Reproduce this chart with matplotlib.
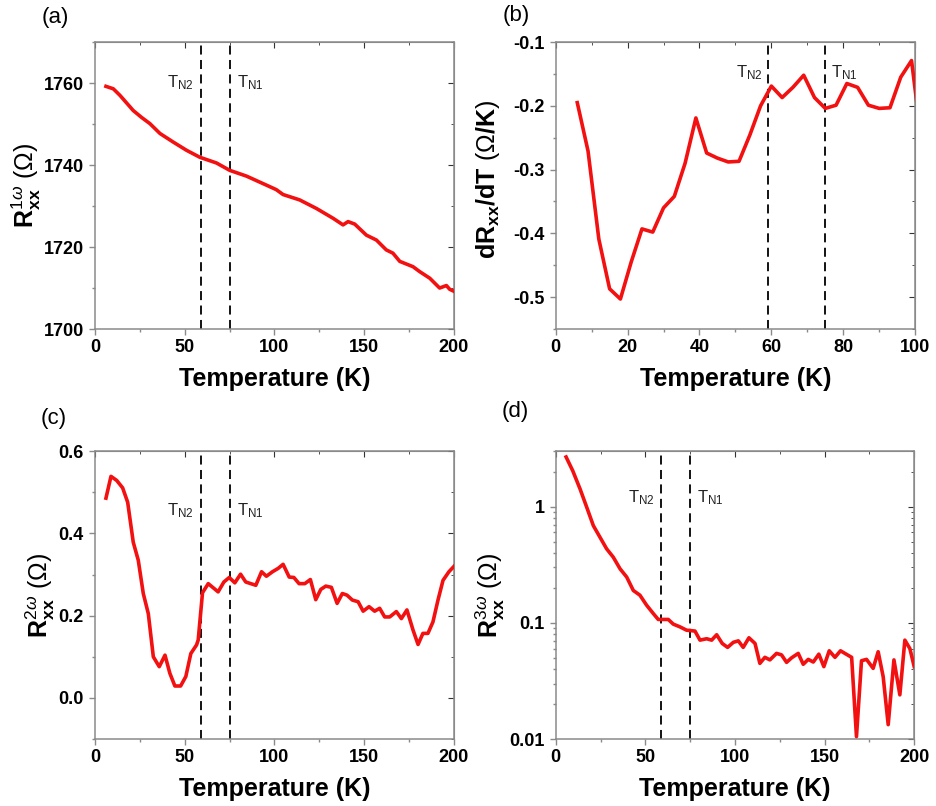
import numpy as np
import matplotlib
matplotlib.use("Agg")
import matplotlib.pyplot as plt
from matplotlib.ticker import MultipleLocator, LogLocator, NullFormatter, FixedLocator

plt.rcParams['font.family'] = ['Liberation Sans', 'DejaVu Sans']
plt.rcParams['mathtext.fontset'] = 'custom'
plt.rcParams['mathtext.rm'] = 'Liberation Sans'
plt.rcParams['mathtext.it'] = 'Liberation Sans:italic'
plt.rcParams['mathtext.bf'] = 'Liberation Sans:bold'
plt.rcParams['axes.unicode_minus'] = False

# (a) first harmonic resistance
Ta = [6.1, 10.2, 13.9, 17.5, 21.3, 26, 30.6, 36.2, 43.6, 51, 58.4, 67.7, 75.1, 84.4,
      95.5, 101, 104.8, 114, 123.4, 132.7, 138.2, 141, 144.7, 151.2, 156.8, 162.3,
      166, 169.8, 177.2, 180.9, 186.5, 192, 195.8, 197.6, 200]
Ra = [1759.2, 1758.6, 1757, 1755.2, 1753.3, 1751.6, 1750.1, 1747.7, 1745.6, 1743.6,
      1741.9, 1740.5, 1738.7, 1737.3, 1735.1, 1734, 1732.8, 1731.5, 1729.4, 1727,
      1725.4, 1726.2, 1725.6, 1722.9, 1721.7, 1719.3, 1718.5, 1716.5, 1715.2, 1714,
      1712.4, 1710, 1710.6, 1709.7, 1709.2]

# (b) derivative
Tb = [6, 9, 12, 15, 18, 21, 24, 27, 30, 33, 36, 39, 42, 45, 48, 51, 54, 57, 60, 63,
      66, 69, 72, 75, 78, 81, 84, 87, 90, 93, 96, 99, 102]
dRb = [-0.195, -0.271, -0.409, -0.487, -0.503, -0.445, -0.393, -0.398, -0.36, -0.342,
       -0.29, -0.219, -0.274, -0.282, -0.288, -0.287, -0.246, -0.2, -0.169, -0.187,
       -0.171, -0.152, -0.187, -0.204, -0.199, -0.165, -0.171, -0.199, -0.204, -0.203,
       -0.155, -0.129, -0.265]

# (c) second harmonic
Tc = [6.1, 8.9, 12.1, 15.4, 18.2, 21.3, 24.1, 26.9, 29.7, 32.5, 35.8, 39, 41.7, 44.5,
      47.7, 50.6, 53.4, 56.6, 57.5, 59.9, 63.1, 68.6, 71.8, 74.8, 77.9, 81.1, 84,
      89.6, 92.8, 95.5, 98.9, 102, 104.8, 108.2, 110.8, 113.7, 116.9, 120, 123,
      125.8, 128.6, 131.7, 134.9, 137.8, 140.4, 143.4, 146.6, 149.4, 152.7, 155.8,
      158.6, 161.4, 164.2, 167.9, 170.7, 173.8, 177.2, 180, 182.7, 185.5, 188.3,
      191.1, 193.9, 197.2, 200]
R2c = [0.486, 0.539, 0.529, 0.511, 0.476, 0.379, 0.335, 0.254, 0.205, 0.1, 0.076,
       0.104, 0.06, 0.029, 0.029, 0.052, 0.108, 0.129, 0.141, 0.256, 0.278, 0.258,
       0.282, 0.293, 0.28, 0.301, 0.282, 0.274, 0.307, 0.296, 0.307, 0.315, 0.325,
       0.294, 0.293, 0.278, 0.278, 0.288, 0.239, 0.264, 0.272, 0.269, 0.23, 0.254,
       0.25, 0.238, 0.234, 0.211, 0.222, 0.211, 0.218, 0.197, 0.197, 0.21, 0.193,
       0.214, 0.165, 0.13, 0.157, 0.157, 0.185, 0.238, 0.286, 0.307, 0.32]

# (d) third harmonic
Td = [5.8, 9.5, 13.6, 17.3, 21, 24.7, 28.4, 32.1, 35.9, 39.6, 43.3, 47, 50.7, 54.5,
      57.2, 60, 62.8, 65.6, 69.3, 73, 77.7, 80.5, 84.2, 87, 89.8, 92.9, 95.9, 99.1,
      101.9, 104.6, 107.8, 111.2, 113.9, 116.7, 119.5, 123.2, 126, 128.8, 131.6,
      135.3, 138.1, 140.9, 143.7, 146.8, 149.6, 152.6, 155.8, 158.9, 162.3, 165.1,
      167.8, 170.6, 173.4, 177.1, 179.9, 182.7, 185.5, 188.7, 192, 194.8, 197.6, 200]
R3d = [2.68, 2.04, 1.42, 0.99, 0.687, 0.546, 0.434, 0.368, 0.292, 0.248, 0.19, 0.173,
       0.142, 0.12, 0.107, 0.107, 0.107, 0.0975, 0.0924, 0.0865, 0.085, 0.071, 0.073,
       0.071, 0.079, 0.0665, 0.0615, 0.068, 0.070, 0.0615, 0.0744, 0.0665, 0.0448,
       0.0505, 0.048, 0.0546, 0.053, 0.0457, 0.050, 0.0546, 0.044, 0.0485, 0.046,
       0.0538, 0.042, 0.0575, 0.0505, 0.0575, 0.0535, 0.0505, 0.0105, 0.0472, 0.0485,
       0.0406, 0.0564, 0.0344, 0.0133, 0.048, 0.024, 0.071, 0.06, 0.042]

T_N2 = 59
T_N1 = 75

red = '#f21010'
spine_col = '#8a8a8a'

fig = plt.figure(figsize=(9.36, 8.06), dpi=100)
ax_a = fig.add_axes([0.1015, 0.5918, 0.3835, 0.356])
ax_b = fig.add_axes([0.5937, 0.5918, 0.3840, 0.356])
ax_c = fig.add_axes([0.1015, 0.0831, 0.3835, 0.357])
ax_d = fig.add_axes([0.5937, 0.0831, 0.3830, 0.357])


def style(ax, log=False):
    for s in ax.spines.values():
        s.set_color(spine_col)
        s.set_linewidth(1.1)
    ax.tick_params(which='major', direction='out', length=4.5, width=1.0,
                   color=spine_col, labelsize=13)
    ax.tick_params(which='minor', direction='out', length=2.5, width=1.0,
                   color=spine_col)
    ax.tick_params(axis='x', pad=2.5)
    ax.tick_params(axis='y', pad=3.5)
    # top/right ticks pointing inward
    top = ax.secondary_xaxis('top')
    top.xaxis.set_major_locator(FixedLocator(ax.get_xticks()))
    top.xaxis.set_minor_locator(ax.xaxis.get_minor_locator())
    top.tick_params(which='both', direction='in', labeltop=False, color='#333333')
    top.tick_params(which='major', length=4)
    top.tick_params(which='minor', length=2.5)
    top.spines['top'].set_color(spine_col)
    right = ax.secondary_yaxis('right')
    if log:
        right.yaxis.set_major_locator(LogLocator(base=10))
        right.yaxis.set_minor_locator(LogLocator(base=10, subs=np.arange(2, 10)))
        right.yaxis.set_minor_formatter(NullFormatter())
    else:
        right.yaxis.set_major_locator(FixedLocator(ax.get_yticks()))
        right.yaxis.set_minor_locator(ax.yaxis.get_minor_locator())
    right.tick_params(which='both', direction='in', labelright=False, color='#333333')
    right.tick_params(which='major', length=4)
    right.tick_params(which='minor', length=2.5)
    right.spines['right'].set_color(spine_col)
    ax.set_xlabel('Temperature (K)', fontsize=18, fontweight='bold', labelpad=8)


def tn_lines(ax, ytext, x2, x1):
    ax.axvline(T_N2, color='black', ls=(0, (5, 3)), lw=1.3, zorder=1)
    ax.axvline(T_N1, color='black', ls=(0, (5, 3)), lw=1.3, zorder=1)
    ax.text(x2, ytext, r'T$_{\mathrm{N2}}$', ha='right', va='center', fontsize=12,
            color='#222222')
    ax.text(x1, ytext, r'T$_{\mathrm{N1}}$', ha='left', va='center', fontsize=12,
            color='#222222')


# (a)
ax_a.plot(Ta, Ra, color=red, lw=2.6, zorder=3)
ax_a.set_xlim(0, 200)
ax_a.set_ylim(1700, 1770)
ax_a.xaxis.set_major_locator(MultipleLocator(50))
ax_a.xaxis.set_minor_locator(MultipleLocator(25))
ax_a.yaxis.set_major_locator(MultipleLocator(20))
ax_a.yaxis.set_minor_locator(MultipleLocator(10))
tn_lines(ax_a, 1760, 55, 79)
style(ax_a)
ax_a.set_ylabel(r'$\mathbf{R}^{1\omega}_{\mathbf{xx}}\ (\Omega)$', fontsize=18)
ax_a.yaxis.set_label_coords(-0.145, 0.5)

# (b)
ax_b.plot(Tb, dRb, color=red, lw=2.6, zorder=3)
ax_b.set_xlim(0, 100)
ax_b.set_ylim(-0.55, -0.1)
ax_b.xaxis.set_major_locator(MultipleLocator(20))
ax_b.xaxis.set_minor_locator(MultipleLocator(10))
ax_b.yaxis.set_major_locator(MultipleLocator(0.1))
ax_b.yaxis.set_minor_locator(MultipleLocator(0.05))
tn_lines(ax_b, -0.148, 57.5, 76.5)
style(ax_b)
ax_b.set_ylabel(r'$\mathbf{dR}_{\mathbf{xx}}\mathbf{/dT}\ (\Omega\mathbf{/K})$',
                fontsize=18)
ax_b.yaxis.set_label_coords(-0.15, 0.52)

# (c)
ax_c.plot(Tc, R2c, color=red, lw=2.6, zorder=3)
ax_c.set_xlim(0, 200)
ax_c.set_ylim(-0.1, 0.6)
ax_c.xaxis.set_major_locator(MultipleLocator(50))
ax_c.xaxis.set_minor_locator(MultipleLocator(25))
ax_c.yaxis.set_major_locator(MultipleLocator(0.2))
ax_c.yaxis.set_minor_locator(MultipleLocator(0.1))
ax_c.yaxis.set_major_formatter(plt.FormatStrFormatter('%.1f'))
tn_lines(ax_c, 0.456, 55, 79)
style(ax_c)
ax_c.set_ylabel(r'$\mathbf{R}^{2\omega}_{\mathbf{xx}}\ (\Omega)$', fontsize=18)
ax_c.yaxis.set_label_coords(-0.105, 0.5)

# (d)
ax_d.plot(Td, R3d, color=red, lw=2.6, zorder=3)
ax_d.set_yscale('log')
ax_d.set_xlim(0, 200)
ax_d.set_ylim(0.01, 3)
ax_d.xaxis.set_major_locator(MultipleLocator(50))
ax_d.xaxis.set_minor_locator(MultipleLocator(25))
ax_d.yaxis.set_major_locator(FixedLocator([0.01, 0.1, 1]))
ax_d.yaxis.set_major_formatter(plt.FixedFormatter(['0.01', '0.1', '1']))
ax_d.yaxis.set_minor_locator(LogLocator(base=10, subs=np.arange(2, 10)))
ax_d.yaxis.set_minor_formatter(NullFormatter())
tn_lines(ax_d, 1.2, 55, 79)
style(ax_d, log=True)
ax_d.set_ylabel(r'$\mathbf{R}^{3\omega}_{\mathbf{xx}}\ (\Omega)$', fontsize=18)
ax_d.yaxis.set_label_coords(-0.135, 0.5)

for ax in (ax_a, ax_b, ax_c, ax_d):
    for lab in ax.get_xticklabels() + ax.get_yticklabels():
        lab.set_fontweight('bold')

fig.text(0.045, 0.978, '(a)', fontsize=16, va='center', ha='left')
fig.text(0.537, 0.981, '(b)', fontsize=16, va='center', ha='left')
fig.text(0.043, 0.481, '(c)', fontsize=16, va='center', ha='left')
fig.text(0.536, 0.49, '(d)', fontsize=16, va='center', ha='left')

fig.savefig('out.png', dpi=100)
